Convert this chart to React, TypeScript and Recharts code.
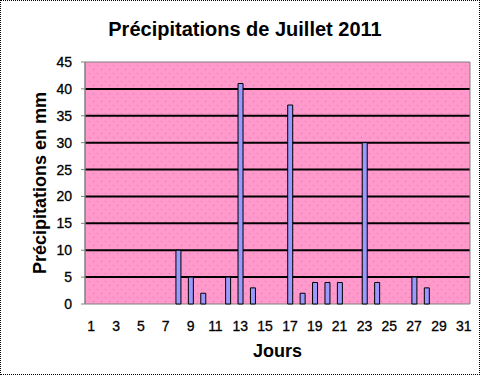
import { BarChart, Bar, XAxis, YAxis, CartesianGrid, ReferenceArea } from 'recharts';

// Pluie journalière (mm), juillet 2011
const days = [1, 2, 3, 4, 5, 6, 7, 8, 9, 10, 11, 12, 13, 14, 15, 16, 17, 18, 19, 20, 21, 22, 23, 24, 25, 26, 27, 28, 29, 30, 31];
const rainMm = [0, 0, 0, 0, 0, 0, 0, 10, 5, 2, 0, 5, 41, 3, 0, 0, 37, 2, 4, 4, 4, 0, 30, 4, 0, 0, 5, 3, 0, 0, 0];
const yTicks = [0, 5, 10, 15, 20, 25, 30, 35, 40, 45];
const gridValues = [5, 10, 15, 20, 25, 30, 35, 40];
const dayEdges = [0, 1, 2, 3, 4, 5, 6, 7, 8, 9, 10, 11, 12, 13, 14, 15, 16, 17, 18, 19, 20, 21, 22, 23, 24, 25, 26, 27, 28, 29, 30, 31];

const data = days.map((d, i) => ({ day: d, mm: rainMm[i] || null }));

const FONT = '"Liberation Sans", Arial, sans-serif';

const YLabel = (props: any) => {
  const { viewBox } = props;
  const cx = 46;
  const cy = viewBox.y + viewBox.height / 2;
  return (
    <text x={cx} y={cy} transform={`rotate(-90 ${cx} ${cy})`} textAnchor="middle"
      fontFamily={FONT} fontSize={18} fontWeight="bold" fill="#000">
      Précipitations en mm
    </text>
  );
};

const XLabel = (props: any) => {
  const { viewBox } = props;
  return (
    <text x={viewBox.x + viewBox.width / 2} y={357} textAnchor="middle"
      fontFamily={FONT} fontSize={18} fontWeight="bold" fill="#000">
      Jours
    </text>
  );
};

const tickStyle = { fontSize: 14, fill: '#000', fontFamily: FONT, stroke: '#000', strokeWidth: 0.3 };

export default function App() {
  return (
    <div style={{ position: 'absolute', left: 0, top: 0, width: 481, height: 376, background: '#fff', fontFamily: FONT }}>
      <div style={{ position: 'absolute', left: 0, top: 0, width: 480, height: 375, border: '1px dotted #000', boxSizing: 'border-box' }} />
      <BarChart width={481} height={376} data={data} margin={{ top: 62, right: 11, bottom: 0, left: 0 }}>
        <CartesianGrid fill="url(#dots)" fillOpacity={1} vertical={false} horizontalValues={gridValues}
          stroke="#000" strokeWidth={2} />
        <XAxis xAxisId="edge" type="number" domain={[0, 31]} ticks={dayEdges} tick={false} height={0}
          tickSize={4} tickLine={{ stroke: '#808080' }} axisLine={{ stroke: '#808080' }} />
        <XAxis xAxisId="cat" dataKey="day" interval={1} height={72} tickLine={false} axisLine={false}
          tickSize={4} tickMargin={13} tick={tickStyle} label={<XLabel />} />
        <YAxis domain={[0, 45]} ticks={yTicks} width={85} tickSize={4} tickMargin={9}
          tickLine={{ stroke: '#808080' }} axisLine={{ stroke: '#808080' }}
          tick={tickStyle} label={<YLabel />} />
        <ReferenceArea xAxisId="cat" y1={0} y2={45} fill="none" stroke="#808080" strokeWidth={1} ifOverflow="visible" />
        <Bar xAxisId="cat" dataKey="mm" barSize={5} fill="#9999FF" stroke="#000" strokeWidth={1} isAnimationActive={false} />
      </BarChart>
      <svg width={481} height={376} style={{ position: 'absolute', left: 0, top: 0, pointerEvents: 'none' }}>
        <defs>
          <pattern id="dots" width="8" height="8" patternUnits="userSpaceOnUse">
            <rect width="8" height="8" fill="#FF99CC" />
            <rect x="1" y="1" width="1" height="1" fill="#F0709F" />
            <rect x="5" y="5" width="1" height="1" fill="#F0709F" />
          </pattern>
        </defs>
        <text x={245} y={36} textAnchor="middle" fontFamily={FONT} fontSize={20} fontWeight="bold" fill="#000">
          Précipitations de Juillet 2011
        </text>
      </svg>
    </div>
  );
}
